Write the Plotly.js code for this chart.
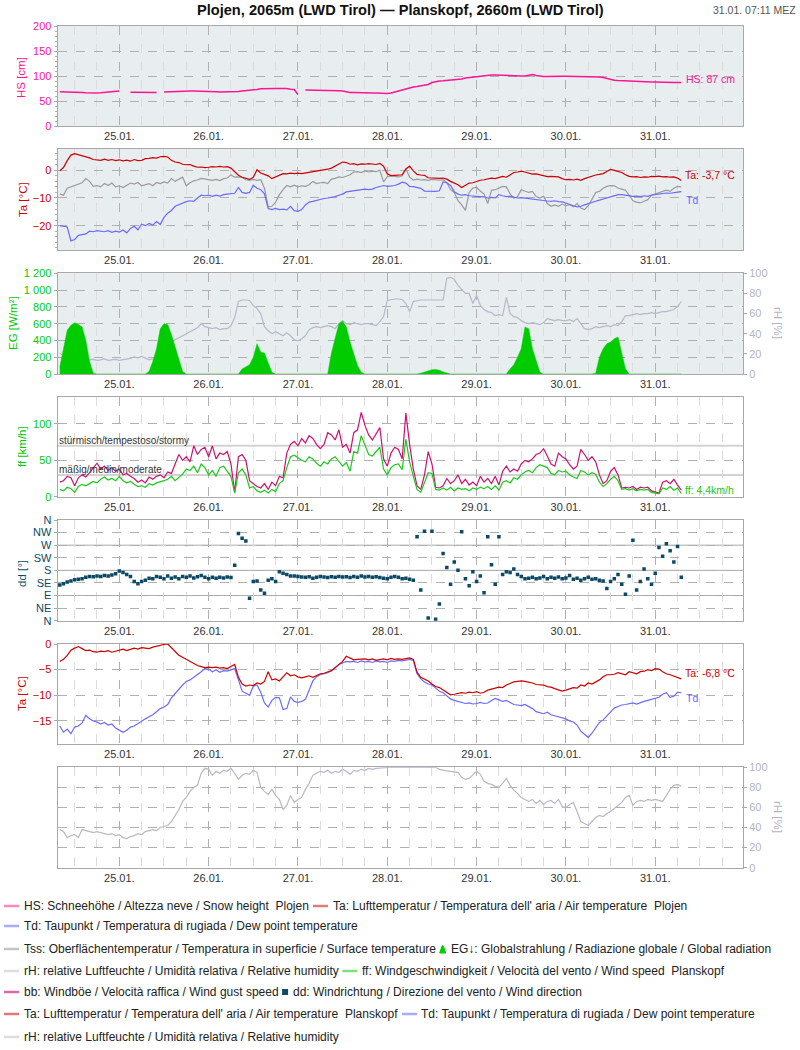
<!DOCTYPE html>
<html><head><meta charset="utf-8">
<script src="https://cdn.plot.ly/plotly-3.0.1.min.js"></script>
<style>body{margin:0;background:#fff}#chart{width:800px;height:1050px}</style>
</head><body><div id="chart"></div>
<script>
// ---------- DATA (hourly, 24.01. 08:00 .. 31.01. 07:00) ----------
const START = '2025-01-24T08:00:00Z';
const dayTickLabels = ['25.01.','26.01.','27.01.','28.01.','29.01.','30.01.','31.01.'];

const HS = [68.5,68.5,68.5,68,68,67.5,67,66.5,66,66,66,66.5,67,68,69,69.5,
70,null,null,67.5,67.5,67.5,67,67,67,67,67,null,68,68.5,69,69,69.5,69.5,69.5,70,70,70,70,70,
69.5,69,68.5,68,68,67.5,67.5,67.5,69,70,70.5,71,71.5,73,74.5,75,75.5,75.5,75,75,75.5,75,73.5,73,
63,null,72,72,72,72,71.5,71.5,71.5,71,71,70.5,70,68,67,67,66.5,66.5,66.5,66,66,66,65.5,65.5,
65,66,68,71,73,75,77,78,79,80,81,83,87,89,90,90.5,91,91,91.5,92,94,96,97,98,
99,100,101,101.5,102,102,101.5,101,100.5,100,100,100,100,100,101,103,101,99.5,99,99,99.5,99.5,99.5,99.5,
99.5,99.5,99.5,99,99,99,99,98.5,98.5,98,97,95,93,91.5,91,90.5,90,89.5,89,89,88.5,88.5,88,88,
88,87.5,87.5,87.5,87,87,87,87];

const TaPlojen = [-0.2,1.0,3.5,5.5,6.0,5.6,5.4,5.0,4.5,3.9,3.8,3.6,4.0,3.6,3.9,3.5,
3.8,3.4,3.7,3.3,3.9,3.5,3.6,4.2,4.3,4.6,4.4,4.9,5.0,4.8,3.6,3.0,2.8,2.2,2.0,2.1,1.5,1.1,1.2,1.0,
1.1,1.3,1.2,1.4,1.2,1.3,0.8,-0.5,-1.8,-2.5,-3.0,-3.3,-2.5,0.2,-1.0,-1.5,-2.0,-3.0,-2.3,-1.8,-1.2,-1.3,-1.0,-1.2,
-1.0,-1.2,-1.0,-0.8,-0.6,-0.3,-0.2,0.2,0.4,0.8,1.6,2.4,3.0,2.8,2.2,2.4,2.0,2.3,2.2,2.4,2.3,2.1,2.5,1.5,
-1.3,-1.9,-1.8,-1.7,-1.6,0.5,1.5,-0.2,-1.5,-1.7,-1.8,-2.7,-2.8,-3.0,-2.9,-2.8,-3.2,-4.0,-4.6,-5.2,-6.2,-5.5,-4.6,-4.5,
-4.0,-3.6,-3.4,-3.0,-2.8,-3.0,-2.6,-2.2,-2.5,-1.6,-0.8,-0.6,-0.3,-0.6,-1.1,-1.4,-1.3,-1.6,-1.8,-2.3,-2.2,-2.3,-2.4,-3.0,
-3.4,-3.3,-3.5,-3.2,-3.6,-3.0,-2.6,-2.0,-1.7,-1.5,-1.2,-0.4,0.3,0.0,-0.4,-0.8,-1.6,-2.2,-2.4,-2.3,-2.6,-2.4,-2.5,-2.2,
-2.3,-2.1,-2.4,-2.3,-2.5,-2.4,-2.8,-3.7];

const TdPlojen = [-20.0,-20.3,-20.5,-25.5,-25.0,-23.5,-23.3,-23.0,-22.0,-22.2,-21.8,-22.0,-22.2,-21.8,-22.4,-22.0,
-22.3,-21.6,-22.6,-21.0,-20.2,-21.5,-19.5,-20.0,-19.2,-19.8,-18.5,-19.6,-17.0,-15.5,-14.5,-13.0,-12.4,-11.8,-11.3,-11.0,-11.2,-10.0,-9.0,-9.2,
-9.0,-9.4,-9.0,-9.3,-8.8,-8.6,-8.5,-8.3,-6.2,-8.0,-8.3,-8.0,-5.4,-6.5,-7.0,-8.5,-13.8,-14.2,-13.8,-14.2,-14.0,-14.3,-13.0,-14.6,
-14.8,-14.2,-12.5,-11.5,-11.2,-10.8,-10.4,-10.2,-10.0,-9.8,-9.5,-9.0,-8.6,-7.8,-7.6,-7.5,-7.2,-7.0,-6.8,-7.0,-6.8,-6.2,-5.8,-5.5,
-5.8,-5.6,-5.5,-5.0,-4.3,-4.6,-5.8,-5.9,-6.3,-6.5,-7.5,-7.6,-7.5,-7.6,-7.4,-4.2,-4.5,-5.5,-7.8,-8.6,-9.0,-8.8,-9.2,-9.4,
-9.4,-9.5,-9.6,-10.0,-9.8,-10.0,-8.8,-9.2,-9.5,-9.4,-9.8,-10.0,-9.9,-10.1,-10.2,-10.5,-10.6,-10.8,-11.0,-11.1,-11.2,-11.0,-11.3,-11.4,
-11.8,-12.4,-12.8,-13.2,-13.0,-12.5,-12.0,-11.6,-11.2,-10.8,-10.3,-10.0,-9.6,-9.2,-8.8,-8.8,-9.0,-9.2,-9.4,-9.3,-9.5,-9.2,-9.4,-9.0,
-8.8,-8.6,-8.4,-8.2,-8.3,-8.0,-7.9,-7.7];

const Tss = [-8.5,-9.0,-6.5,-6.0,-5.5,-4.8,-4.5,-3.0,-4.0,-5.8,-5.5,-6.0,-4.8,-5.5,-4.6,-6.0,
-5.6,-6.2,-5.4,-4.6,-5.0,-4.4,-5.6,-5.2,-4.8,-5.6,-4.4,-4.8,-4.2,-4.6,-3.0,-4.0,-3.2,-2.5,-5.6,-4.5,-3.8,-3.5,-2.9,-3.2,
-3.4,-3.6,-3.3,-3.7,-3.0,-2.8,-1.7,-2.5,-2.4,-2.6,-3.4,-3.6,-3.3,-3.6,-3.4,-6.5,-13.2,-13.0,-11.5,-8.8,-7.0,-5.5,-6.0,-5.4,
-6.0,-5.6,-5.8,-5.2,-4.0,-4.8,-4.5,-4.4,-4.8,-3.2,-2.9,-2.4,-2.6,-2.2,-1.6,-0.6,-0.5,-0.8,-0.2,-0.6,-0.3,-0.5,0.0,-4.2,
-2.3,-2.0,-2.2,-2.4,-2.0,0.5,-2.5,-3.5,-3.2,-3.5,-3.4,-3.6,-3.3,-3.5,-3.6,-3.4,-4.5,-7.0,-8.0,-11.0,-12.5,-14.5,-8.0,-6.4,
-6.2,-7.5,-8.6,-12.0,-7.2,-7.0,-6.5,-5.8,-6.0,-8.5,-10.0,-9.6,-7.0,-7.5,-8.0,-7.6,-9.5,-10.0,-9.4,-12.0,-13.0,-12.5,-13.0,-12.2,
-12.8,-12.4,-13.2,-12.0,-13.6,-14.2,-12.8,-10.5,-8.0,-7.6,-6.5,-5.8,-5.5,-5.6,-6.4,-6.8,-7.2,-9.0,-11.0,-11.5,-11.8,-11.2,-10.6,-9.0,
-8.6,-8.0,-7.8,-7.2,-7.6,-6.5,-5.8,-6.0];

const EG = [80,300,520,580,610,590,560,400,150,10,0,0,0,0,0,0,
0,0,0,0,0,0,0,0,30,150,300,540,600,590,470,330,170,30,0,0,0,0,0,0,
0,0,0,0,0,0,0,0,0,60,90,110,200,360,260,250,130,20,0,0,0,0,0,0,
0,0,0,0,0,0,0,0,0,250,420,600,630,560,380,240,100,20,0,0,0,0,0,0,
0,0,0,0,0,0,0,0,0,10,25,40,50,55,45,25,8,0,0,0,0,0,0,0,
0,0,0,0,0,0,0,0,0,60,110,200,300,560,540,300,160,20,0,0,0,0,0,0,
0,0,0,0,0,0,0,0,10,200,300,360,380,420,440,230,60,0,0,0,0,0,0,0,
0,0,0,0,0,0,0,0];

const rHPlojen = [21,18,17,16,15,15,14.5,15,14,14.5,13.5,14,15,13.5,14,14.5,
13.5,14,15,15.5,17,16,17.5,16,14,15,17,20,24,28,31,34,36,38,40,42,44,46,50,47,
46,45,46,44,45,45,48,56,72,73.5,73.5,73,68,65,60,47,43,40,42,40,38,41,38,34,
33,35,38,44,46,47,46,47,48,47,45,50,53,50,49,51,50,49,50,50,49,48,52,57,
73,74,74.5,74.5,74,70,62,72,73,73.5,73.5,73.5,73,73.5,73,73.5,95,96,94,88,84,80,80,70,
78,68,64,62,61,58,59,58,76,60,57,56,53,51,50,51,50,49,51,55,54,53,54,53,
53,54,52,55,50,45,44,45,47,46,47,48,47,49,48,52,58,58,59,60,59,60,60,61,
60,61,62,62,63,64,67,72];

const ff = [10,8,13,11,6,14,17,15,18,21,19,24,27,23,25,22,
28,22,19,21,17,14,15,13,18,16,19,20,22,24,28,22,27,31,38,36,42,33,45,40,
30,36,28,40,42,35,28,5,33,38,30,12,14,8,6,9,5,10,7,18,22,40,55,57,
53,50,48,55,52,46,42,48,45,52,55,48,42,47,35,62,60,84,70,58,56,62,68,38,
30,40,44,45,37,79,48,28,10,6,20,33,32,10,9,12,9,13,8,12,10,11,8,12,
10,13,11,14,10,15,9,20,22,19,26,24,30,34,36,33,40,44,42,40,32,30,36,34,
35,30,27,25,36,34,30,33,31,20,14,18,24,28,22,10,11,9,11,8,10,9,10,6,
5,4,12,10,14,9,12,4.4];

const bb = [20,22,28,26,15,26,30,27,33,40,46,38,42,36,40,35,
38,30,32,28,25,20,23,19,27,24,28,30,26,34,32,45,58,50,55,48,70,58,65,68,
55,70,52,60,58,62,45,6,55,58,50,22,18,14,12,18,10,20,15,28,26,60,72,76,
70,80,74,84,80,72,66,72,88,85,78,92,68,72,60,88,92,116,98,85,78,86,95,52,
42,60,68,65,52,115,72,38,15,10,30,62,45,13,12,15,25,18,22,30,18,24,16,20,
15,28,20,25,18,28,16,35,42,34,38,35,45,50,48,52,58,60,66,56,45,42,60,55,
52,44,38,42,65,58,50,55,48,30,18,22,35,40,30,12,13,12,14,10,13,12,13,8,
6,5,20,22,18,24,16,9];

const dd = [128,132,138,142,146,148,150,155,158,157,160,158,162,160,163,168,
178,172,165,158,140,132,140,145,152,150,158,155,150,160,152,156,150,158,155,160,153,157,162,155,
150,155,152,155,153,156,154,198,312,295,285,80,140,142,110,98,145,150,140,175,170,165,160,160,
158,156,155,157,152,155,158,156,154,157,155,158,156,157,154,158,155,160,156,158,155,157,154,152,
150,155,158,155,150,152,148,145,300,110,320,10,320,5,60,240,190,130,210,180,318,150,125,175,
140,160,100,300,200,130,300,165,175,172,185,165,158,150,152,155,150,153,158,150,155,152,156,150,
153,162,148,152,145,150,155,148,150,145,142,115,140,150,165,130,95,160,288,110,140,185,150,130,
170,262,230,275,250,210,265,155];

const TaPlanskopf = [-3.4,-3.0,-2.2,-1.2,-0.8,-0.5,-0.9,-1.3,-1.2,-1.5,-1.6,-1.4,-1.5,-1.3,-1.6,-1.4,
-1.2,-1.0,-1.3,-1.0,-0.8,-1.0,-0.7,-0.8,-0.9,-0.6,-0.4,-0.2,-0.1,0.0,-0.8,-1.4,-2.2,-2.6,-3.0,-3.5,-3.8,-4.2,-4.4,-4.6,
-4.5,-4.6,-4.5,-4.7,-4.6,-4.8,-4.4,-4.0,-6.5,-7.8,-8.2,-8.0,-8.1,-7.6,-7.8,-7.3,-5.4,-7.0,-6.8,-7.2,-6.4,-5.6,-6.2,-6.0,
-6.4,-6.6,-6.4,-6.2,-6.5,-6.2,-5.8,-5.7,-5.4,-5.2,-4.6,-4.0,-3.4,-2.4,-2.8,-3.1,-3.0,-3.0,-2.9,-3.1,-2.9,-3.2,-3.0,-2.9,
-3.1,-2.8,-3.0,-2.9,-3.0,-2.8,-2.7,-3.0,-5.5,-6.5,-6.8,-7.2,-7.8,-8.3,-8.5,-9.0,-9.5,-9.9,-9.8,-9.7,-9.5,-9.6,-9.4,-9.5,
-9.3,-9.6,-9.4,-9.0,-8.8,-8.6,-8.4,-8.5,-8.0,-7.7,-7.4,-7.3,-7.2,-7.3,-7.4,-7.6,-7.9,-8.0,-8.0,-8.3,-8.4,-8.7,-8.9,-9.2,
-9.0,-8.8,-8.5,-8.6,-8.0,-8.2,-7.6,-7.8,-7.4,-7.0,-6.4,-6.0,-6.0,-5.9,-5.6,-5.8,-6.0,-5.4,-5.6,-5.8,-5.4,-5.3,-5.0,-5.2,
-4.8,-4.9,-5.4,-5.8,-6.0,-6.3,-6.6,-6.8];

const TdPlanskopf = [-16.0,-17.2,-16.6,-17.5,-16.2,-16.0,-15.4,-13.9,-14.6,-15.0,-15.2,-15.6,-15.3,-15.8,-15.6,-16.4,
-16.8,-17.2,-16.8,-16.2,-16.0,-15.5,-15.0,-14.6,-14.2,-13.8,-13.2,-12.6,-12.3,-11.8,-10.5,-9.6,-8.8,-8.0,-7.3,-7.0,-6.5,-6.0,-5.4,-4.8,
-4.9,-5.4,-5.0,-5.5,-5.2,-5.3,-5.0,-4.8,-7.0,-9.2,-9.6,-10.0,-8.2,-8.0,-9.4,-11.5,-12.3,-11.0,-10.4,-10.5,-12.8,-12.6,-10.3,-11.2,
-11.4,-11.2,-10.8,-9.0,-7.2,-6.4,-6.0,-5.8,-5.6,-5.2,-4.6,-4.0,-3.7,-3.4,-3.5,-3.4,-3.6,-3.3,-3.5,-3.4,-3.6,-3.3,-3.5,-3.4,
-3.6,-3.3,-3.4,-3.2,-3.3,-3.1,-3.0,-3.2,-5.8,-6.8,-7.4,-7.8,-8.0,-8.6,-9.2,-9.5,-10.2,-10.7,-11.0,-11.2,-11.4,-11.6,-11.5,-11.7,
-11.6,-11.4,-11.6,-11.5,-11.0,-10.6,-10.9,-11.2,-11.0,-11.4,-11.8,-11.9,-12.0,-11.8,-12.2,-12.6,-13.2,-13.4,-13.6,-13.3,-13.8,-14.0,-14.2,-14.4,
-14.6,-15.0,-15.2,-15.8,-17.0,-17.6,-18.2,-17.4,-16.4,-15.3,-14.8,-14.0,-13.2,-12.5,-12.2,-11.9,-11.8,-11.6,-11.5,-11.7,-11.4,-11.2,-11.0,-10.8,
-10.6,-10.4,-9.8,-9.5,-10.4,-10.2,-9.4,-9.5];

const rHPlanskopf = [38,36,30,32,33,30,38,37,36,35,36,35,34,33,34,32,
33,30,29,31,32,34,33,36,37,38,37,40,41,42,46,52,58,66,70,76,80,82,94,99,
98,92,96,94,97,96,99,94,88,92,94,93,97,95,80,76,73,78,72,68,58,62,72,65,
68,70,78,84,92,94,96,95,97,94,96,95,98,96,93,97,96,98,97,99,98,99,99.5,100,
100,100,100,100,100,100,100,100,100,100,100,100,100,100,98,97,96.5,96,95.5,95,90,88,89,93,
96,93,86,84,83,81,80,84,89,82,77,74,70,68,66,68,64,67,63,66,67,64,68,61,
60,63,65,56,46,44,42,46,50,52,51,54,56,59,62,65,70,72,62,66,67,66,68,67,
68,67,66,72,78,82,83,81];

const ddTickVals = [0,45,90,135,180,225,270,315,360];
const ddTickText = ['N','NE','E','SE','S','SW','W','NW','N'];
const egTickVals = [0,200,400,600,800,1000,1200];
const egTickText = ['0','200','400','600','800','1 000','1 200'];

// ---------- BUILD ----------
const W = 800, H = 1050;
const t0 = Date.parse(START);
const times = HS.map((_, i) => new Date(t0 + i * 3600000).toISOString().slice(0, 16).replace('T', ' '));
const FONT = 'Liberation Sans, Arial, sans-serif';
const xDom = [57.6 / W, 743 / W];
const xRange = ['2025-01-24 07:25', '2025-01-31 23:35'];
function dom(top, bottom) { return [1 - bottom / H, 1 - top / H]; }
function px(x) { return x / W; }
function py(y) { return 1 - y / H; }

function xax(anchor) {
  return {
    domain: xDom, anchor: anchor, type: 'date', range: xRange,
    tick0: '2025-01-25', dtick: 86400000, tickformat: '%d.%m.',
    showgrid: true, gridcolor: '#b0b0b0', griddash: 'dash', gridwidth: 1,
    minor: { tick0: '2025-01-25', dtick: 21600000, showgrid: true, gridcolor: '#dcdcdc', griddash: 'dash', gridwidth: 1 },
    showline: true, mirror: true, linecolor: '#a8a8a8', linewidth: 1,
    ticks: '', zeroline: false, tickfont: { size: 11, color: '#333' }, fixedrange: true
  };
}
function yax(o) {
  return Object.assign({
    showgrid: true, gridcolor: '#b0b0b0', griddash: 'dash', gridwidth: 1,
    showline: true, mirror: true, linecolor: '#a8a8a8', zeroline: false,
    ticks: 'outside', ticklen: 3, tickcolor: '#a8a8a8', fixedrange: true
  }, o);
}

const PINK = '#ff1493', RED = '#cc0000', BLUE = '#6b6bff', GRAY = '#9a9a9a',
      RHC = '#b8b8c8', GREEN = '#1cc81c', MAG = '#cc1270', TEAL = '#0b4a66', EGC = '#00cc00';

const traces = [
  { x: times, y: HS, xaxis: 'x', yaxis: 'y', mode: 'lines', line: { color: PINK, width: 1.5 } },
  { x: times, y: Tss, xaxis: 'x2', yaxis: 'y2', mode: 'lines', line: { color: GRAY, width: 1.2 } },
  { x: times, y: TdPlojen, xaxis: 'x2', yaxis: 'y2', mode: 'lines', line: { color: BLUE, width: 1.2 } },
  { x: times, y: TaPlojen, xaxis: 'x2', yaxis: 'y2', mode: 'lines', line: { color: RED, width: 1.2 } },
  { x: times, y: rHPlojen, xaxis: 'x3', yaxis: 'y3', mode: 'lines', line: { color: RHC, width: 1.2 } },
  { x: times, y: EG, xaxis: 'x3', yaxis: 'y8', mode: 'lines', fill: 'tozeroy', fillcolor: EGC, line: { color: EGC, width: 0.5 } },
  { x: times, y: bb, xaxis: 'x4', yaxis: 'y4', mode: 'lines', line: { color: MAG, width: 1.2 } },
  { x: times, y: ff, xaxis: 'x4', yaxis: 'y4', mode: 'lines', line: { color: GREEN, width: 1.2 } },
  { x: times, y: dd, xaxis: 'x5', yaxis: 'y5', mode: 'markers', marker: { color: TEAL, size: 3.5, symbol: 'square' } },
  { x: times, y: TdPlanskopf, xaxis: 'x6', yaxis: 'y6', mode: 'lines', line: { color: BLUE, width: 1.2 } },
  { x: times, y: TaPlanskopf, xaxis: 'x6', yaxis: 'y6', mode: 'lines', line: { color: RED, width: 1.2 } },
  { x: times, y: rHPlanskopf, xaxis: 'x7', yaxis: 'y7', mode: 'lines', line: { color: RHC, width: 1.2 } }
];
traces.forEach(t => { t.showlegend = false; t.hoverinfo = 'skip'; });

const shapes = [];
[['x', 'y'], ['x2', 'y2'], ['x3', 'y3']].forEach(p => shapes.push({
  type: 'rect', xref: p[0] + ' domain', yref: p[1] + ' domain', x0: 0, x1: 1, y0: 0, y1: 1,
  fillcolor: '#e8edf0', line: { width: 0 }, layer: 'below'
}));
[30, 70].forEach(v => shapes.push({ type: 'line', xref: 'x4 domain', yref: 'y4', x0: 0, x1: 1, y0: v, y1: v, line: { color: '#d2d2d2', width: 2 }, layer: 'below' }));
[90, 180, 270].forEach(v => shapes.push({ type: 'line', xref: 'x5 domain', yref: 'y5', x0: 0, x1: 1, y0: v, y1: v, line: { color: '#a8a8a8', width: 1 }, layer: 'below' }));

const annotations = [];
function txt(text, x, y, o) {
  annotations.push(Object.assign({ text: text, x: px(x), y: py(y), xref: 'paper', yref: 'paper', showarrow: false, xanchor: 'left', yanchor: 'middle', font: { size: 11, color: '#222' } }, o || {}));
}
txt('<b>Plojen, 2065m (LWD Tirol) — Planskopf, 2660m (LWD Tirol)</b>', 400, 10, { xanchor: 'center', font: { size: 14.6, color: '#111' } });
txt('31.01. 07:11 MEZ', 798, 10, { xanchor: 'right', font: { size: 10.5, color: '#555' } });
txt('HS [cm]', 21, 78, { xanchor: 'center', textangle: -90, font: { size: 11.5, color: PINK } });
txt('Ta [°C]', 23, 200, { xanchor: 'center', textangle: -90, font: { size: 11.5, color: RED } });
txt('EG [W/m²]', 13, 323, { xanchor: 'center', textangle: -90, font: { size: 11.5, color: EGC } });
txt('rH [%]', 778, 323, { xanchor: 'center', textangle: 90, font: { size: 11.5, color: '#b4b4c4' } });
txt('ff [km/h]', 22, 447, { xanchor: 'center', textangle: -90, font: { size: 11.5, color: EGC } });
txt('dd [°]', 22, 574, { xanchor: 'center', textangle: -90, font: { size: 11.5, color: TEAL } });
txt('Ta [°C]', 22, 694, { xanchor: 'center', textangle: -90, font: { size: 11.5, color: RED } });
txt('rH [%]', 778, 817, { xanchor: 'center', textangle: 90, font: { size: 11.5, color: '#b4b4c4' } });
txt('HS: 87 cm', 684, 79, { font: { size: 10.5, color: PINK } });
txt('Ta: -3,7 °C', 683, 175, { font: { size: 10.5, color: RED } });
txt('Td', 684, 200, { font: { size: 10.5, color: BLUE } });
txt('stürmisch/tempestoso/stormy', 57, 440, { font: { size: 10, color: '#333' } });
txt('mäßig/medio/moderate', 57, 470, { font: { size: 10, color: '#333' } });
txt('ff: 4,4km/h', 683, 490, { font: { size: 10.5, color: GREEN } });
txt('Ta: -6,8 °C', 683, 673, { font: { size: 10.5, color: RED } });
txt('Td', 684, 698, { font: { size: 10.5, color: BLUE } });

// legend rows (text + symbol), items laid out left to right using measured text widths
const LEG_SIZE = 12;
const ctx = document.createElement('canvas').getContext('2d');
ctx.font = LEG_SIZE + 'px "Liberation Sans", Arial, sans-serif';
const rowY = [906, 926, 949, 971, 992, 1014, 1037];
const legendRows = [
  [['line', '#ff88bb', 'HS: Schneehöhe / Altezza neve / Snow height  Plojen'],
   ['line', '#e07a7a', "Ta: Lufttemperatur / Temperatura dell' aria / Air temperature  Plojen"]],
  [['line', '#aaaaff', 'Td: Taupunkt / Temperatura di rugiada / Dew point temperature']],
  [['line', '#c4c4c4', 'Tss: Oberflächentemperatur / Temperatura in superficie / Surface temperature'],
   ['tri', '#00cc00', 'EG↓: Globalstrahlung / Radiazione globale / Global radiation']],
  [['line', '#dcdce6', 'rH: relative Luftfeuchte / Umidità relativa / Relative humidity'],
   ['line', '#7ce07c', 'ff: Windgeschwindigkeit / Velocità del vento / Wind speed  Planskopf']],
  [['line', '#dd6aa0', 'bb: Windböe / Velocità raffica / Wind gust speed'],
   ['sq', '#0b4a66', 'dd: Windrichtung / Direzione del vento / Wind direction']],
  [['line', '#e07a7a', "Ta: Lufttemperatur / Temperatura dell' aria / Air temperature  Planskopf"],
   ['line', '#aaaaff', 'Td: Taupunkt / Temperatura di rugiada / Dew point temperature']],
  [['line', '#dcdce6', 'rH: relative Luftfeuchte / Umidità relativa / Relative humidity']]
];
legendRows.forEach((row, r) => {
  const y = rowY[r];
  let x = 4;
  row.forEach(([sym, c, t]) => {
    let tx;
    if (sym === 'line') {
      shapes.push({ type: 'line', xref: 'paper', yref: 'paper', x0: px(x), x1: px(x + 15), y0: py(y), y1: py(y), line: { color: c, width: 2.5 } });
      tx = x + 17.5;
    } else if (sym === 'tri') {
      shapes.push({ type: 'path', xref: 'paper', yref: 'paper', fillcolor: c, line: { color: c, width: 1 },
        path: `M ${px(x)},${py(y + 4)} L ${px(x + 2)},${py(y - 2)} Q ${px(x + 3)},${py(y - 5)} ${px(x + 4)},${py(y - 2)} L ${px(x + 6)},${py(y + 4)} Z` });
      tx = x + 9;
    } else {
      shapes.push({ type: 'rect', xref: 'paper', yref: 'paper', x0: px(x), x1: px(x + 6), y0: py(y + 3), y1: py(y - 3), fillcolor: c, line: { width: 0 } });
      tx = x + 9;
    }
    txt(t, tx, y, { font: { size: LEG_SIZE, color: '#222' } });
    x = tx + ctx.measureText(t).width + 6;
  });
});

const layout = {
  width: W, height: H, margin: { l: 0, r: 0, t: 0, b: 0 },
  paper_bgcolor: '#ffffff', plot_bgcolor: 'rgba(0,0,0,0)',
  font: { family: FONT, size: 11, color: '#333' },
  showlegend: false,
  xaxis: xax('y'), xaxis2: xax('y2'), xaxis3: xax('y3'), xaxis4: xax('y4'),
  xaxis5: xax('y5'), xaxis6: xax('y6'), xaxis7: xax('y7'),
  yaxis: yax({ domain: dom(26, 126), anchor: 'x', range: [0, 200], dtick: 50, tickfont: { size: 11, color: PINK },
    minor: { dtick: 10, ticks: 'outside', ticklen: 2, tickcolor: '#b0b0b0', showgrid: false } }),
  yaxis2: yax({ domain: dom(149, 250), anchor: 'x2', range: [-28.8, 7.7], tick0: 0, dtick: 10, tickfont: { size: 11, color: RED },
    minor: { dtick: 2, ticks: 'outside', ticklen: 2, tickcolor: '#b0b0b0', showgrid: false } }),
  yaxis3: yax({ domain: dom(273.3, 374), anchor: 'x3', side: 'right', range: [0, 100], dtick: 20, showgrid: false,
    tickfont: { size: 11, color: '#b4b4c4' } }),
  yaxis8: yax({ overlaying: 'y3', anchor: 'x3', side: 'left', range: [0, 1200], tickvals: egTickVals, ticktext: egTickText,
    showline: false, tickfont: { size: 11, color: EGC } }),
  yaxis4: yax({ domain: dom(396.7, 496.7), anchor: 'x4', range: [0, 137.5], dtick: 50, tickfont: { size: 11, color: EGC } }),
  yaxis5: yax({ domain: dom(520, 620.7), anchor: 'x5', range: [0, 360], tickvals: ddTickVals, ticktext: ddTickText,
    tickfont: { size: 11, color: TEAL } }),
  yaxis6: yax({ domain: dom(644, 744), anchor: 'x6', range: [-19.5, 0], dtick: 5, tickfont: { size: 11, color: RED } }),
  yaxis7: yax({ domain: dom(767.3, 867.7), anchor: 'x7', side: 'right', range: [0, 100], dtick: 20,
    tickfont: { size: 11, color: '#b4b4c4' } }),
  shapes: shapes, annotations: annotations
};

Plotly.newPlot('chart', traces, layout, { displayModeBar: false, staticPlot: true });
</script></body></html>
